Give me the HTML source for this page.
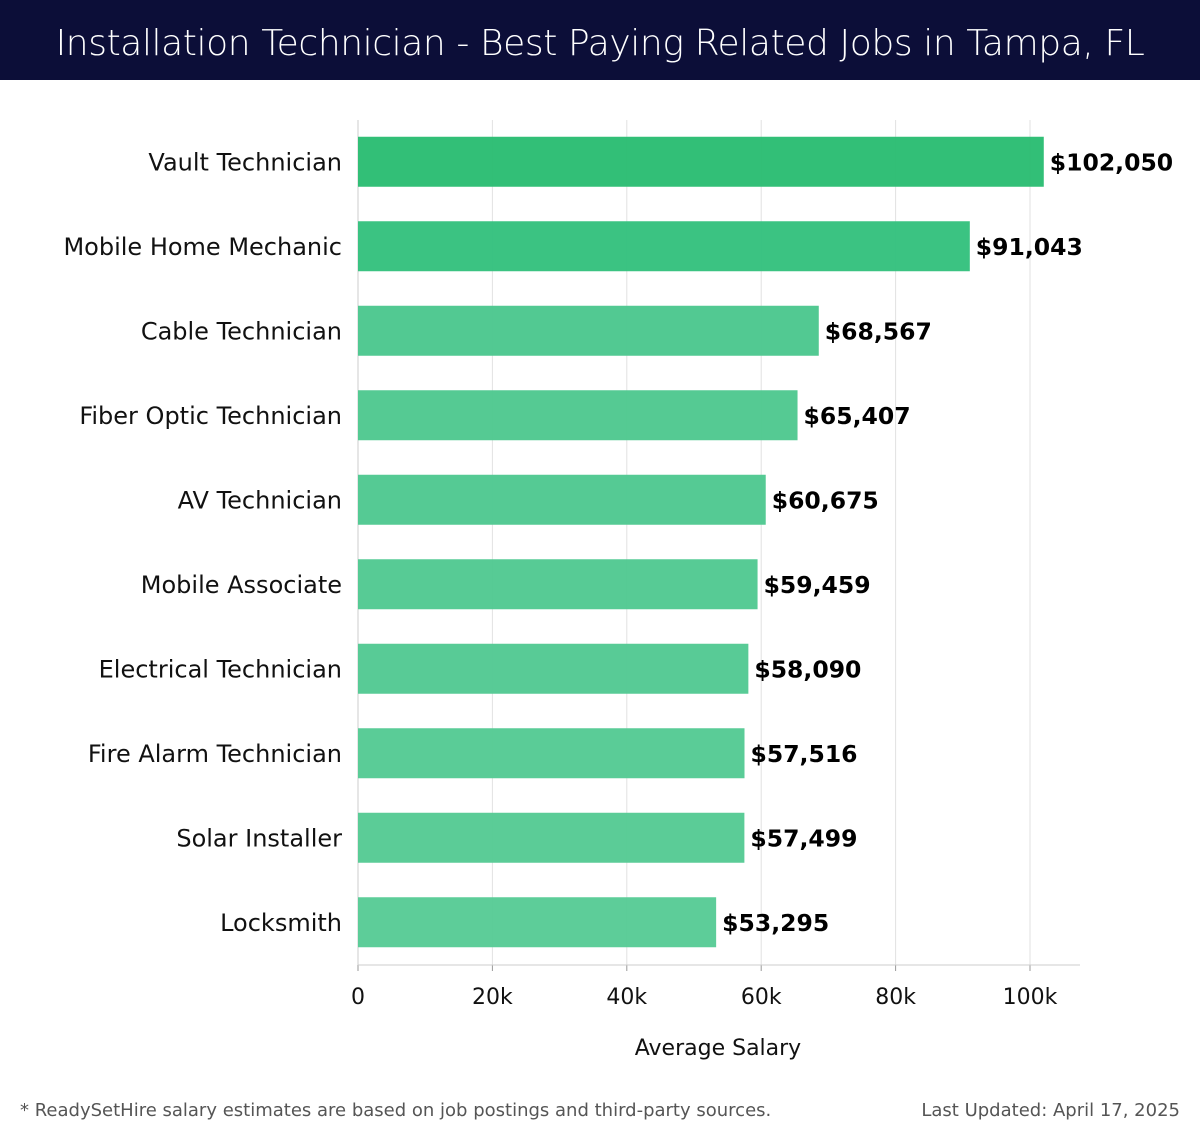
<!DOCTYPE html>
<html><head><meta charset="utf-8"><style>
body{margin:0;width:1200px;height:1140px;background:#fff;font-family:"DejaVu Sans","Liberation Sans",sans-serif;overflow:hidden}
#hdr{position:absolute;left:0;top:0;width:1200px;height:80px;background:#0c0e38;color:#fff;font-size:36px;text-align:center;line-height:88px;font-family:"DejaVu Sans","Liberation Sans",sans-serif;font-weight:300;letter-spacing:-0.4px}
.foot{position:absolute;top:1100px;font-size:18px;color:#555;font-family:"DejaVu Sans","Liberation Sans",sans-serif}
</style></head><body>
<div id="hdr">Installation Technician - Best Paying Related Jobs in Tampa, FL</div>
<svg id="chart" width="1200" height="1140" style="position:absolute;left:0;top:0;font-family:'DejaVu Sans','Liberation Sans',sans-serif"></svg>
<div class="foot" style="left:20px">* ReadySetHire salary estimates are based on job postings and third-party sources.</div>
<div class="foot" style="right:20px">Last Updated: April 17, 2025</div>
<script>
const categories=["Vault Technician","Mobile Home Mechanic","Cable Technician","Fiber Optic Technician","AV Technician","Mobile Associate","Electrical Technician","Fire Alarm Technician","Solar Installer","Locksmith"];
const values=[102050,91043,68567,65407,60675,59459,58090,57516,57499,53295];
const valueLabels=["$102,050","$91,043","$68,567","$65,407","$60,675","$59,459","$58,090","$57,516","$57,499","$53,295"];
const ticks=[0,20000,40000,60000,80000,100000];
const tickLabels=["0","20k","40k","60k","80k","100k"];
const colors=["#2bbd73","#35c17e","#4cc78e","#4fc890","#50c891","#52c992","#53c993","#55ca94","#56ca94","#58cb96"];
const svg=document.getElementById('chart');const NS="http://www.w3.org/2000/svg";
const x0=358,pxPer=(1030-358)/100000,plotTop=120,plotBottom=965,band=(plotBottom-plotTop)/categories.length,bh=50;
const x=v=>x0+v*pxPer;
function mk(t,a){const e=document.createElementNS(NS,t);for(const k in a)e.setAttribute(k,a[k]);svg.appendChild(e);return e;}
ticks.forEach((t,i)=>{
 const g=mk('line',{x1:x(t),x2:x(t),y1:plotTop,y2:plotBottom,stroke:i?"#e2e2e2":"#cccccc","stroke-width":1});
 
 
 const tk=mk('line',{x1:x(t),x2:x(t),y1:plotBottom,y2:plotBottom+6,stroke:"#999"});
 
 
 const l=mk('text',{x:x(t),y:1004,"text-anchor":"middle","font-size":22,fill:"#111"});l.textContent=tickLabels[i];
 
 
});
const ax=mk('line',{x1:x0,x2:1080,y1:plotBottom,y2:plotBottom,stroke:"#ccc"});


categories.forEach((c,i)=>{
 const cy=plotTop+band*(i+0.5);
 const r=mk('rect',{x:x0,y:cy-bh/2-0.5,width:x(values[i])-x0,height:bh,fill:colors[i],"fill-opacity":0.97});
 
 
 const l=mk('text',{x:342,y:cy+8,"text-anchor":"end","font-size":24,fill:"#111"});l.textContent=c;
 
 
 const v=mk('text',{x:x(values[i])+6,y:cy+8,"font-size":23.5,"font-weight":"bold",fill:"#000"});v.textContent=valueLabels[i];
 
 
});
const t=mk('text',{x:718,y:1055,"text-anchor":"middle","font-size":22,fill:"#111"});t.textContent="Average Salary";


</script>
</body></html>
